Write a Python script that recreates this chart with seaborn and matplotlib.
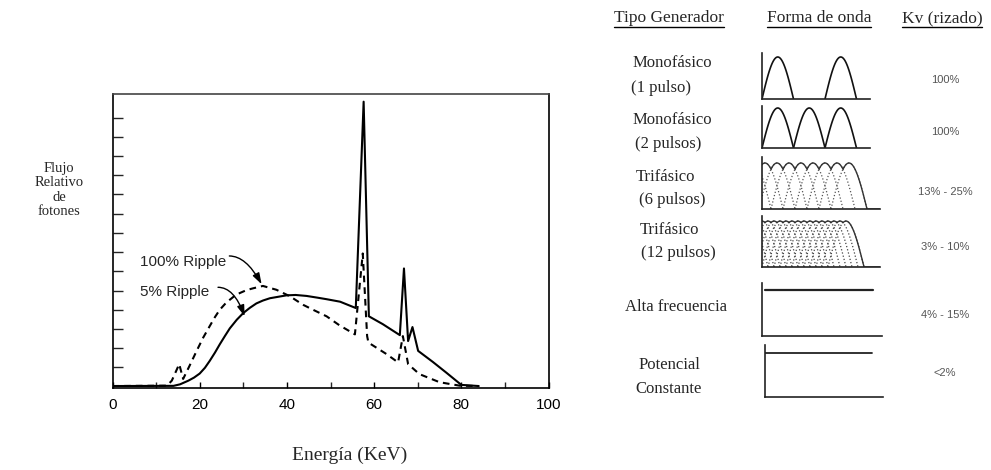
import numpy as np
import pandas as pd
import matplotlib
matplotlib.use("Agg")
import matplotlib.pyplot as plt
import seaborn as sns
from matplotlib.lines import Line2D

# ---------------- data ----------------
energy_5 = [0, 14.0, 15.5, 17.4, 18.7, 20.0, 21.2, 22.3, 23.5, 24.6, 25.8, 26.9, 28.5, 30.0,
            31.5, 33.0, 34.5, 36.1, 39.9, 42.0, 44.5, 47.0, 49.1, 52.2,
            55.8, 57.6, 58.8, 62.0, 65.9, 66.85, 67.8, 68.8, 70.1, 73.5, 76.6, 80.0, 84.0]
flux_5 = [0.03, 0.04, 0.12, 0.31, 0.47, 0.68, 0.98, 1.34, 1.77, 2.2, 2.64, 3.03, 3.48, 3.83,
          4.1, 4.33, 4.48, 4.6, 4.75, 4.77, 4.72, 4.63, 4.55, 4.42,
          4.09, 14.83, 3.66, 3.25, 2.68, 6.15, 2.37, 3.1, 1.86, 1.28, 0.72, 0.09, 0.03]

energy_100 = [0, 12.5, 13.6, 15.3, 16.2, 17.6, 19.3, 20.8, 22.3, 23.5, 24.6, 25.8, 26.9, 28.0,
              29.2, 30.7, 32.3, 34.5, 37.6, 40.7, 43.7,
              46.0, 49.1, 52.0, 55.6, 57.4, 58.4, 58.7, 62.8, 65.5, 66.6, 67.8, 70.4, 75.0,
              79.6, 84.0]
flux_100 = [0.03, 0.05, 0.31, 1.17, 0.4, 1.05, 1.86, 2.55, 3.15, 3.62, 4.0, 4.3, 4.52, 4.72,
            4.87, 5.02, 5.12, 5.24, 5.04, 4.7, 4.26,
            4.0, 3.66, 3.2, 2.72, 6.93, 2.63, 2.29, 1.7, 1.26, 2.63, 1.17, 0.65, 0.23,
            0.05, 0.03]

x_major = [0, 20, 40, 60, 80, 100]
x_minor = [10, 30, 50, 70, 90]
y_ticks = list(range(1, 15))

headers = ["Tipo Generador", "Forma de onda", "Kv (rizado)"]
gen_line1 = ["Monofásico", "Monofásico", "Trifásico", "Trifásico", "Alta frecuencia", "Potencial"]
gen_line2 = ["(1 pulso)", "(2 pulsos)", "(6 pulsos)", "(12 pulsos)", "", "Constante"]
ripple = ["100%", "100%", "13% - 25%", "3% - 10%", "4% - 15%", "<2%"]

# ---------------- figure ----------------
sns.set_theme(style="white")
plt.rcParams["font.family"] = ["Liberation Sans", "DejaVu Sans"]
W, H = 991, 470
fig = plt.figure(figsize=(W / 100, H / 100), dpi=100)
fig.patch.set_facecolor("white")


def px_rect(x0, y0, x1, y1):
    return [x0 / W, 1 - y1 / H, (x1 - x0) / W, (y1 - y0) / H]


def ftext(x, y, s, **kw):
    return fig.text(x / W, 1 - y / H, s, **kw)


# main spectrum plot
ax = fig.add_axes(px_rect(112.5, 94, 548.5, 388))
df5 = pd.DataFrame({"E": energy_5, "F": flux_5})
df100 = pd.DataFrame({"E": energy_100, "F": flux_100})
sns.lineplot(data=df5, x="E", y="F", ax=ax, color="black", lw=1.5, sort=False, estimator=None)
sns.lineplot(data=df100, x="E", y="F", ax=ax, color="black", lw=1.5, sort=False, estimator=None,
             linestyle=(0, (3.2, 2.4)))
ax.set_xlim(0, 100)
ax.set_ylim(-0.072, 15.23)
ax.set_xticks(x_major)
ax.set_xticks(x_minor, minor=True)
ax.set_yticks(y_ticks)
ax.set_yticklabels([])
ax.set_xticklabels([str(v) for v in x_major])
ax.tick_params(axis="x", which="major", direction="in", length=4, width=1, labelsize=11,
               pad=7, colors="black", bottom=True)
ax.tick_params(axis="x", which="minor", direction="in", length=4, width=1, bottom=True)
ax.tick_params(axis="y", which="major", direction="in", length=7, width=1, left=True)
ax.set_xlabel("")
ax.set_ylabel("")
for s in ax.spines.values():
    s.set_visible(True)
    s.set_color("black")
    s.set_linewidth(1.2)
ax.spines["top"].set_color("#444444")

ax.text(6.3, 6.5, "100% Ripple", fontsize=11, va="center", ha="left")
ax.text(6.3, 4.95, "5% Ripple", fontsize=11, va="center", ha="left")
ax.annotate("", xy=(34.2, 5.33), xytext=(26.8, 6.8),
            arrowprops=dict(arrowstyle="-|>,head_length=0.55,head_width=0.18", color="black",
                            lw=1.0, shrinkA=0, shrinkB=0,
                            connectionstyle="angle3,angleA=0,angleB=119"))
ax.annotate("", xy=(30.3, 3.66), xytext=(24.2, 5.17),
            arrowprops=dict(arrowstyle="-|>,head_length=0.55,head_width=0.18", color="black",
                            lw=1.0, shrinkA=0, shrinkB=0,
                            connectionstyle="angle3,angleA=0,angleB=110"))

serif = ["Liberation Serif", "DejaVu Serif"]
ftext(59, 190, "Flujo\nRelativo\nde\nfotones", family=serif, fontsize=10.5, ha="center",
      va="center", linespacing=1.15)
ftext(350, 455, "Energía (KeV)", family=serif, fontsize=14, ha="center", va="center")

# ---------------- right-hand table ----------------
head_x = [669, 819, 942]
head_objs = []
for hx, h in zip(head_x, headers):
    head_objs.append(ftext(hx, 18, h, family=serif, fontsize=12.5, ha="center", va="center"))

label_pos = [(672, 63, 661, 88), (672, 120, 668, 144), (666, 177, 672, 200),
             (669, 230, 678, 253), (676, 307, 0, 0), (669, 365, 669, 389)]
for (x1, y1, x2, y2), l1, l2 in zip(label_pos, gen_line1, gen_line2):
    ftext(x1, y1, l1, family=serif, fontsize=12, ha="center", va="center")
    if l2:
        ftext(x2, y2, l2, family=serif, fontsize=12, ha="center", va="center")

ripple_y = [80, 132, 192, 247, 315, 373]
for ry, r in zip(ripple_y, ripple):
    ftext(945, ry, r, fontsize=8, color="#555555", ha="center", va="center")


def wave_axes(x0, y0, x1, y1):
    a = fig.add_axes(px_rect(x0, y0, x1, y1))
    a.set_xticks([])
    a.set_yticks([])
    a.patch.set_alpha(0)
    for s in ["top", "right"]:
        a.spines[s].set_visible(False)
    for s in ["left", "bottom"]:
        a.spines[s].set_color("#222222")
        a.spines[s].set_linewidth(1.2)
    return a


def hump(a, start, width, color, lw, ls):
    t = np.linspace(start, start + width, 60)
    a.plot(t, np.sin(np.pi * (t - start) / width), color=color, lw=lw, ls=ls)


# single-phase half-wave (period 63 px)
a1 = wave_axes(762, 53, 870, 99)
for st in [0, 63]:
    hump(a1, st, 31.5, "#111111", 1.2, "-")
a1.set_xlim(0, 108)
a1.set_ylim(0, 1.095)

# single-phase full-wave
a2 = wave_axes(762, 106, 870, 148)
for st in [0, 31.5, 63]:
    hump(a2, st, 31.5, "#111111", 1.2, "-")
a2.set_xlim(0, 108)
a2.set_ylim(0, 1.05)


def multi(a, starts, width, xmax, hc, hlw):
    grid = np.linspace(0, xmax, 800)
    env = np.zeros_like(grid)
    for st in starts:
        hump(a, st, width, hc, hlw, ":")
        inside = (grid >= st) & (grid <= st + width)
        env[inside] = np.maximum(env[inside], np.sin(np.pi * (grid[inside] - st) / width))
    a.plot(grid, env, color="#333333", lw=1.0)


a3 = wave_axes(762, 157, 880, 209)
multi(a3, [-27 + 12 * k for k in range(9)], 36, 118, "#555555", 0.9)
a3.set_xlim(0, 118)
a3.set_ylim(0, 1.13)

a4 = wave_axes(762, 216, 880, 267)
multi(a4, [-30 + 6 * k for k in range(17)], 36, 118, "#444444", 0.9)
a4.set_xlim(0, 118)
a4.set_ylim(0, 1.11)

hf_level = [0.868, 0.868]
a5 = wave_axes(762, 283, 882, 336)
a5.plot([3, 111], hf_level, color="#222222", lw=1.6)
a5.set_xlim(0, 120)
a5.set_ylim(0, 1)

dc_level = [0.846, 0.846]
a6 = wave_axes(765, 345, 883, 397)
a6.plot([0, 107], dc_level, color="#222222", lw=1.3)
a6.set_xlim(0, 118)
a6.set_ylim(0, 1)

# underline headers
fig.canvas.draw()
r = fig.canvas.get_renderer()
for t in head_objs:
    bb = t.get_window_extent(renderer=r)
    yline = bb.y0 - 1
    fig.add_artist(Line2D([bb.x0 / W, bb.x1 / W], [yline / H, yline / H], color="black", lw=1.0,
                          transform=fig.transFigure))

fig.savefig("out.png", dpi=100, facecolor="white")
